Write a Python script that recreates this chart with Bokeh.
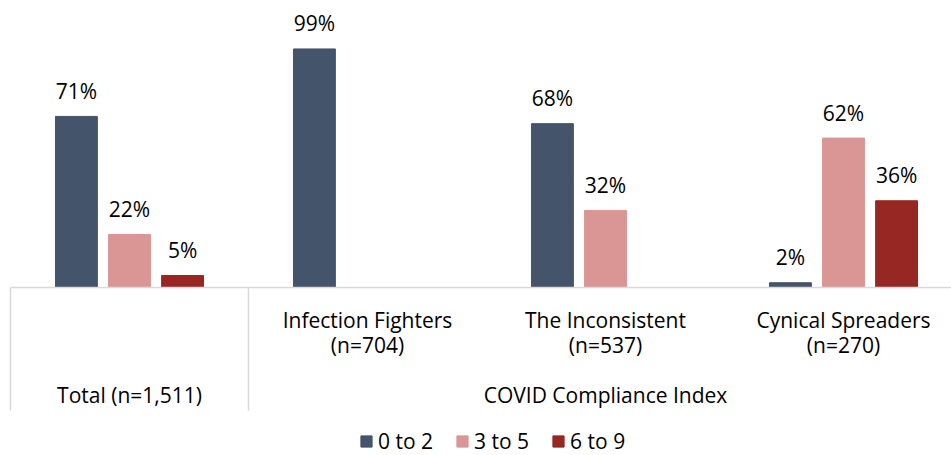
from bokeh.plotting import figure
from bokeh.models import ColumnDataSource, Range1d, Legend, LegendItem
from bokeh.core.properties import value
from bokeh.embed import file_html
from bokeh.resources import INLINE

# ---- data ----
categories = ["Total", "Infection Fighters", "The Inconsistent", "Cynical Spreaders"]
cat_line2 = ["", "(n=704)", "(n=537)", "(n=270)"]
group_labels = ["Total (n=1,511)", "COVID Compliance Index"]
series = ["0 to 2", "3 to 5", "6 to 9"]
v_0_2 = [71, 99, 68, 2]
v_3_5 = [22, None, 32, 62]
v_6_9 = [5, None, None, 36]
colors = ["#44546A", "#DA9694", "#962723"]

FONT = "Open Sans"
FS = "21px"

p = figure(width=951, height=455, output_backend="svg", toolbar_location=None,
           x_range=Range1d(-10 / 238, 941 / 238), y_range=Range1d(-69.7, 119.1),
           min_border=0, outline_line_color=None)
p.xaxis.visible = False
p.yaxis.visible = False
p.xgrid.visible = False
p.ygrid.visible = False

offsets = [-0.223, 0.0, 0.223]
bar_w = 0.176
renderers = []
for s, vals, col, off in zip(series, [v_0_2, v_3_5, v_6_9], colors, offsets):
    xs, ys, labels = [], [], []
    for i, v in enumerate(vals):
        if v is None:
            continue
        xs.append(i + 0.5 + off)
        ys.append(v)
        labels.append(f"{v}%")
    src = ColumnDataSource(dict(x=xs, top=ys, ly=[y + 10.6 for y in ys], label=labels))
    r = p.vbar(x="x", top="top", bottom=0, width=bar_w, color=col, source=src)
    renderers.append(r)
    p.text(x="x", y="ly", text="label", source=src, text_align="center",
           text_baseline="alphabetic", text_font=value(FONT), text_font_size=FS,
           text_color="#000000")

n = len(categories)
# axis line and separators
p.segment(x0=[0], y0=[0], x1=[n], y1=[0], line_color="#D9D9D9", line_width=1.5)
p.segment(x0=[0, 1], y0=[0, 0], x1=[0, 1], y1=[-51, -51], line_color="#D9D9D9", line_width=1.5)

# category labels (COVID segments)
cx = [i + 0.5 for i in range(1, n)]
p.text(x=cx, y=[-13.4] * (n - 1), text=categories[1:], text_align="center",
       text_baseline="middle", text_font=value(FONT), text_font_size=FS, text_color="#000000")
p.text(x=cx, y=[-23.8] * (n - 1), text=cat_line2[1:], text_align="center",
       text_baseline="middle", text_font=value(FONT), text_font_size=FS, text_color="#000000")
# group labels
p.text(x=[0.5, (1 + n) / 2], y=[-44.6, -44.6], text=group_labels, text_align="center",
       text_baseline="middle", text_font=value(FONT), text_font_size=FS, text_color="#000000")

legend = Legend(items=[LegendItem(label=s, renderers=[r]) for s, r in zip(series, renderers)],
                orientation="horizontal", location=(359, 0), border_line_color=None,
                background_fill_alpha=0, padding=0, margin=0, spacing=22,
                glyph_width=14, glyph_height=14, label_standoff=5,
                label_text_font=FONT, label_text_font_size=FS, label_text_color="#000000")
p.add_layout(legend)

open("out.html", "w").write(file_html(p, INLINE))
